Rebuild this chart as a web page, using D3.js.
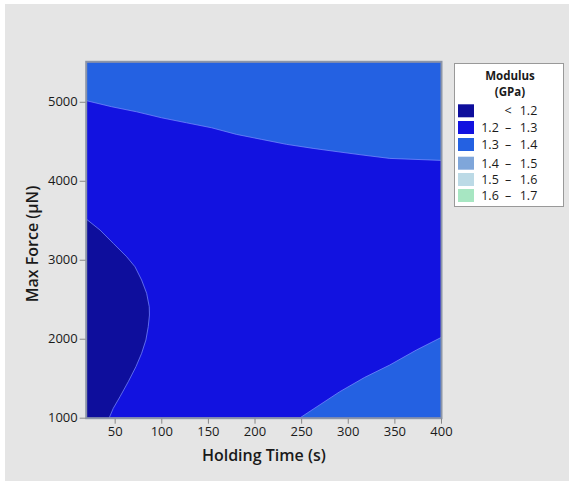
<!DOCTYPE html>
<html>
<head>
<meta charset="utf-8">
<script src="https://cdn.jsdelivr.net/npm/d3@7"></script>
<style>
  html, body { margin: 0; padding: 0; background: #ffffff; }
  svg { display: block; }
  text { font-family: "Open Sans", "DejaVu Sans", sans-serif; fill: #1a1a1a; }
</style>
</head>
<body>
<svg id="chart" width="569" height="481"></svg>
<script>
// ---------- data ----------
const xDomain = [20, 400];
const yDomain = [1000, 5500];
const xTicks = [50, 100, 150, 200, 250, 300, 350, 400];
const yTicks = [1000, 2000, 3000, 4000, 5000];
const xTitle = "Holding Time (s)";
const yTitle = "Max Force (μN)";
const legendTitle = ["Modulus", "(GPa)"];
const legendLow = ["", "1.2", "1.3", "1.4", "1.5", "1.6"];
const legendHigh = ["1.2", "1.3", "1.4", "1.5", "1.6", "1.7"];
const bandColors = ["#0e0e9c", "#1212e0", "#2461e2", "#7fa6da", "#bcdae6", "#a7e6c2"];

// contour 1.3 boundary (top): [holding time, max force]
const upperBoundary = [
  [20, 5013], [46.8, 4937], [73.6, 4873], [100.4, 4797], [127.1, 4734],
  [153.9, 4671], [180.7, 4587], [207.5, 4524], [234.3, 4461], [262.8, 4410],
  [289.6, 4367], [316.4, 4325], [345, 4283], [400, 4258]
];
// contour 1.2 boundary (lower-left pocket)
const lowerLeftBoundary = [
  [20, 3511], [34.3, 3376], [48.5, 3208], [62.9, 3038], [71.8, 2911],
  [78.9, 2743], [84.3, 2575], [87.1, 2405], [87.3, 2300], [86, 2152],
  [83.5, 1984], [78.9, 1815], [72.8, 1646], [64.6, 1456], [55.7, 1266],
  [48.5, 1119], [44.2, 1000]
];
// contour 1.3 boundary (lower-right corner)
const lowerRightBoundary = [
  [249, 1000], [291.4, 1329], [318.2, 1511], [345, 1667], [373.6, 1857], [400, 2015]
];

// ---------- layout ----------
const svg = d3.select("#chart");
svg.append("rect").attr("x", 5).attr("y", 4).attr("width", 564).attr("height", 477)
  .attr("fill", "#e5e5e5");

const plot = { left: 86.7, right: 441, top: 62.3, bottom: 417.7 };
const x = d3.scaleLinear().domain(xDomain).range([plot.left, plot.right]);
const y = d3.scaleLinear().domain(yDomain).range([plot.bottom, plot.top]);

const line = d3.line().x(d => x(d[0])).y(d => y(d[1]));
const g = svg.append("g");

// base band 1.2 - 1.3
g.append("rect")
  .attr("x", x(xDomain[0])).attr("y", y(yDomain[1]))
  .attr("width", x(xDomain[1]) - x(xDomain[0]))
  .attr("height", y(yDomain[0]) - y(yDomain[1]))
  .attr("fill", bandColors[1]);

// top region 1.3 - 1.4
g.append("path")
  .attr("d", line(upperBoundary.concat([[xDomain[1], yDomain[1]], [xDomain[0], yDomain[1]]])) + "Z")
  .attr("fill", bandColors[2]);
// lower-left < 1.2
g.append("path")
  .attr("d", line(lowerLeftBoundary.concat([[xDomain[0], yDomain[0]]])) + "Z")
  .attr("fill", bandColors[0]);
// lower-right 1.3 - 1.4
g.append("path")
  .attr("d", line(lowerRightBoundary.concat([[xDomain[1], yDomain[0]]])) + "Z")
  .attr("fill", bandColors[2]);

// contour lines
[upperBoundary, lowerLeftBoundary, lowerRightBoundary].forEach(b => {
  g.append("path").attr("d", line(b)).attr("fill", "none")
    .attr("stroke", "#7d90ff").attr("stroke-width", 1).attr("stroke-opacity", 0.7);
});

// frame
svg.append("rect")
  .attr("x", plot.left - 0.5).attr("y", plot.top - 0.5)
  .attr("width", plot.right - plot.left + 1).attr("height", plot.bottom - plot.top + 1)
  .attr("fill", "none").attr("stroke", "#8c95a8").attr("stroke-width", 2);

// axes
const xAxis = d3.axisBottom(x).tickValues(xTicks).tickSize(5).tickPadding(3).tickFormat(d3.format("d"));
const yAxis = d3.axisLeft(y).tickValues(yTicks).tickSize(6).tickPadding(2).tickFormat(d3.format("d"));

const gx = svg.append("g").attr("transform", `translate(0,${plot.bottom + 1})`).call(xAxis);
const gy = svg.append("g").attr("transform", `translate(${plot.left - 1},0)`).call(yAxis);
[gx, gy].forEach(a => {
  a.select(".domain").remove();
  a.selectAll(".tick line").attr("stroke", "#888");
  a.selectAll(".tick text").attr("font-size", 13).attr("fill", "#1a1a1a")
    .attr("font-family", "'Open Sans', sans-serif");
});

svg.append("text").attr("x", (plot.left + plot.right) / 2 - 0).attr("y", 461)
  .attr("text-anchor", "middle").attr("font-size", 16).attr("font-weight", 600).text(xTitle);
svg.append("text").attr("transform", `translate(38,${(plot.top + plot.bottom) / 2 + 4}) rotate(-90)`)
  .attr("text-anchor", "middle").attr("font-size", 16).attr("font-weight", 600).text(yTitle);

// legend
const lg = svg.append("g");
lg.append("rect").attr("x", 454.5).attr("y", 63.5).attr("width", 109).attr("height", 143)
  .attr("fill", "#ffffff").attr("stroke", "#999").attr("stroke-width", 1);
legendTitle.forEach((t, i) => {
  lg.append("text").attr("x", 510).attr("y", 80 + i * 15.5).attr("text-anchor", "middle")
    .attr("font-size", 11.5).attr("font-weight", 700).text(t);
});
const rowY = [104.3, 121, 138, 156.7, 173, 189];
bandColors.forEach((c, i) => {
  lg.append("rect").attr("x", 458).attr("y", rowY[i]).attr("width", 16).attr("height", 13).attr("fill", c);
  const ty = rowY[i] + 11;
  if (legendLow[i]) {
    lg.append("text").attr("x", 490).attr("y", ty).attr("text-anchor", "middle").attr("font-size", 12.5).text(legendLow[i]);
    lg.append("text").attr("x", 508).attr("y", ty).attr("text-anchor", "middle").attr("font-size", 12.5).text("–");
  } else {
    lg.append("text").attr("x", 508).attr("y", ty).attr("text-anchor", "middle").attr("font-size", 12.5).text("<");
  }
  lg.append("text").attr("x", 528.5).attr("y", ty).attr("text-anchor", "middle").attr("font-size", 12.5).text(legendHigh[i]);
});
</script>
</body>
</html>
